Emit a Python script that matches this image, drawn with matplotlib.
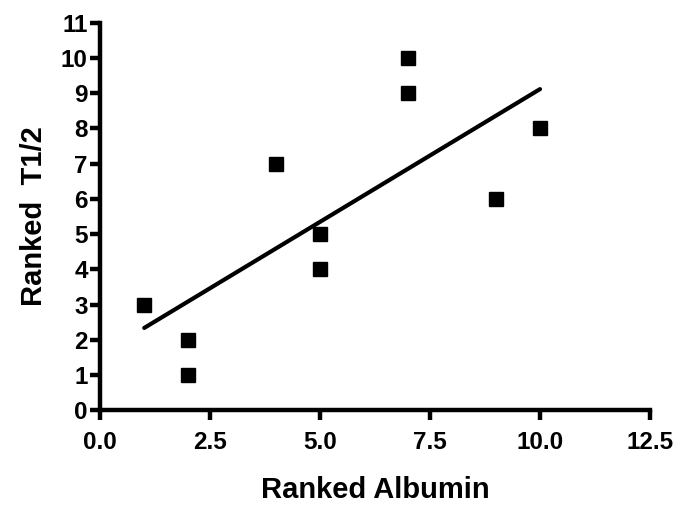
import numpy as np
import matplotlib.pyplot as plt

plt.rcParams['font.family'] = ['Liberation Sans', 'DejaVu Sans']
plt.rcParams['font.weight'] = 'bold'

albumin = [1, 2, 2, 4, 5, 5, 7, 7, 9, 10]
t_half = [3, 2, 1, 7, 5, 4, 10, 9, 6, 8]

fit = np.polyfit(albumin, t_half, deg=1)
xf = np.array([min(albumin), max(albumin)])

fig = plt.figure(figsize=(6.82, 5.07), dpi=100)
ax = fig.add_axes([0.147, 0.191, 0.806, 0.764])
ax.plot(albumin, t_half, 's', color='black', markersize=9.5, clip_on=False)
ax.plot(xf, np.polyval(fit, xf), color='black', linewidth=3,
        solid_capstyle='round')

ax.set_xlim(0, 12.5)
ax.set_ylim(0, 11)
ax.set_xticks(np.arange(0, 12.6, 2.5))
ax.set_xticklabels(['%.1f' % v for v in np.arange(0, 12.6, 2.5)])
ax.set_yticks(range(0, 12))
for s in ['top', 'right']:
    ax.spines[s].set_visible(False)
for s in ['left', 'bottom']:
    ax.spines[s].set_linewidth(3.2)
ax.tick_params(width=3.2, length=7, labelsize=17.5)
ax.tick_params(axis='x', pad=8)
ax.tick_params(axis='y', pad=2)
ax.set_xlabel('Ranked Albumin', fontsize=21, fontweight='bold', labelpad=16)
ax.set_ylabel('Ranked  T1/2', fontsize=21, fontweight='bold', labelpad=9)

plt.savefig('out.png', dpi=100)
